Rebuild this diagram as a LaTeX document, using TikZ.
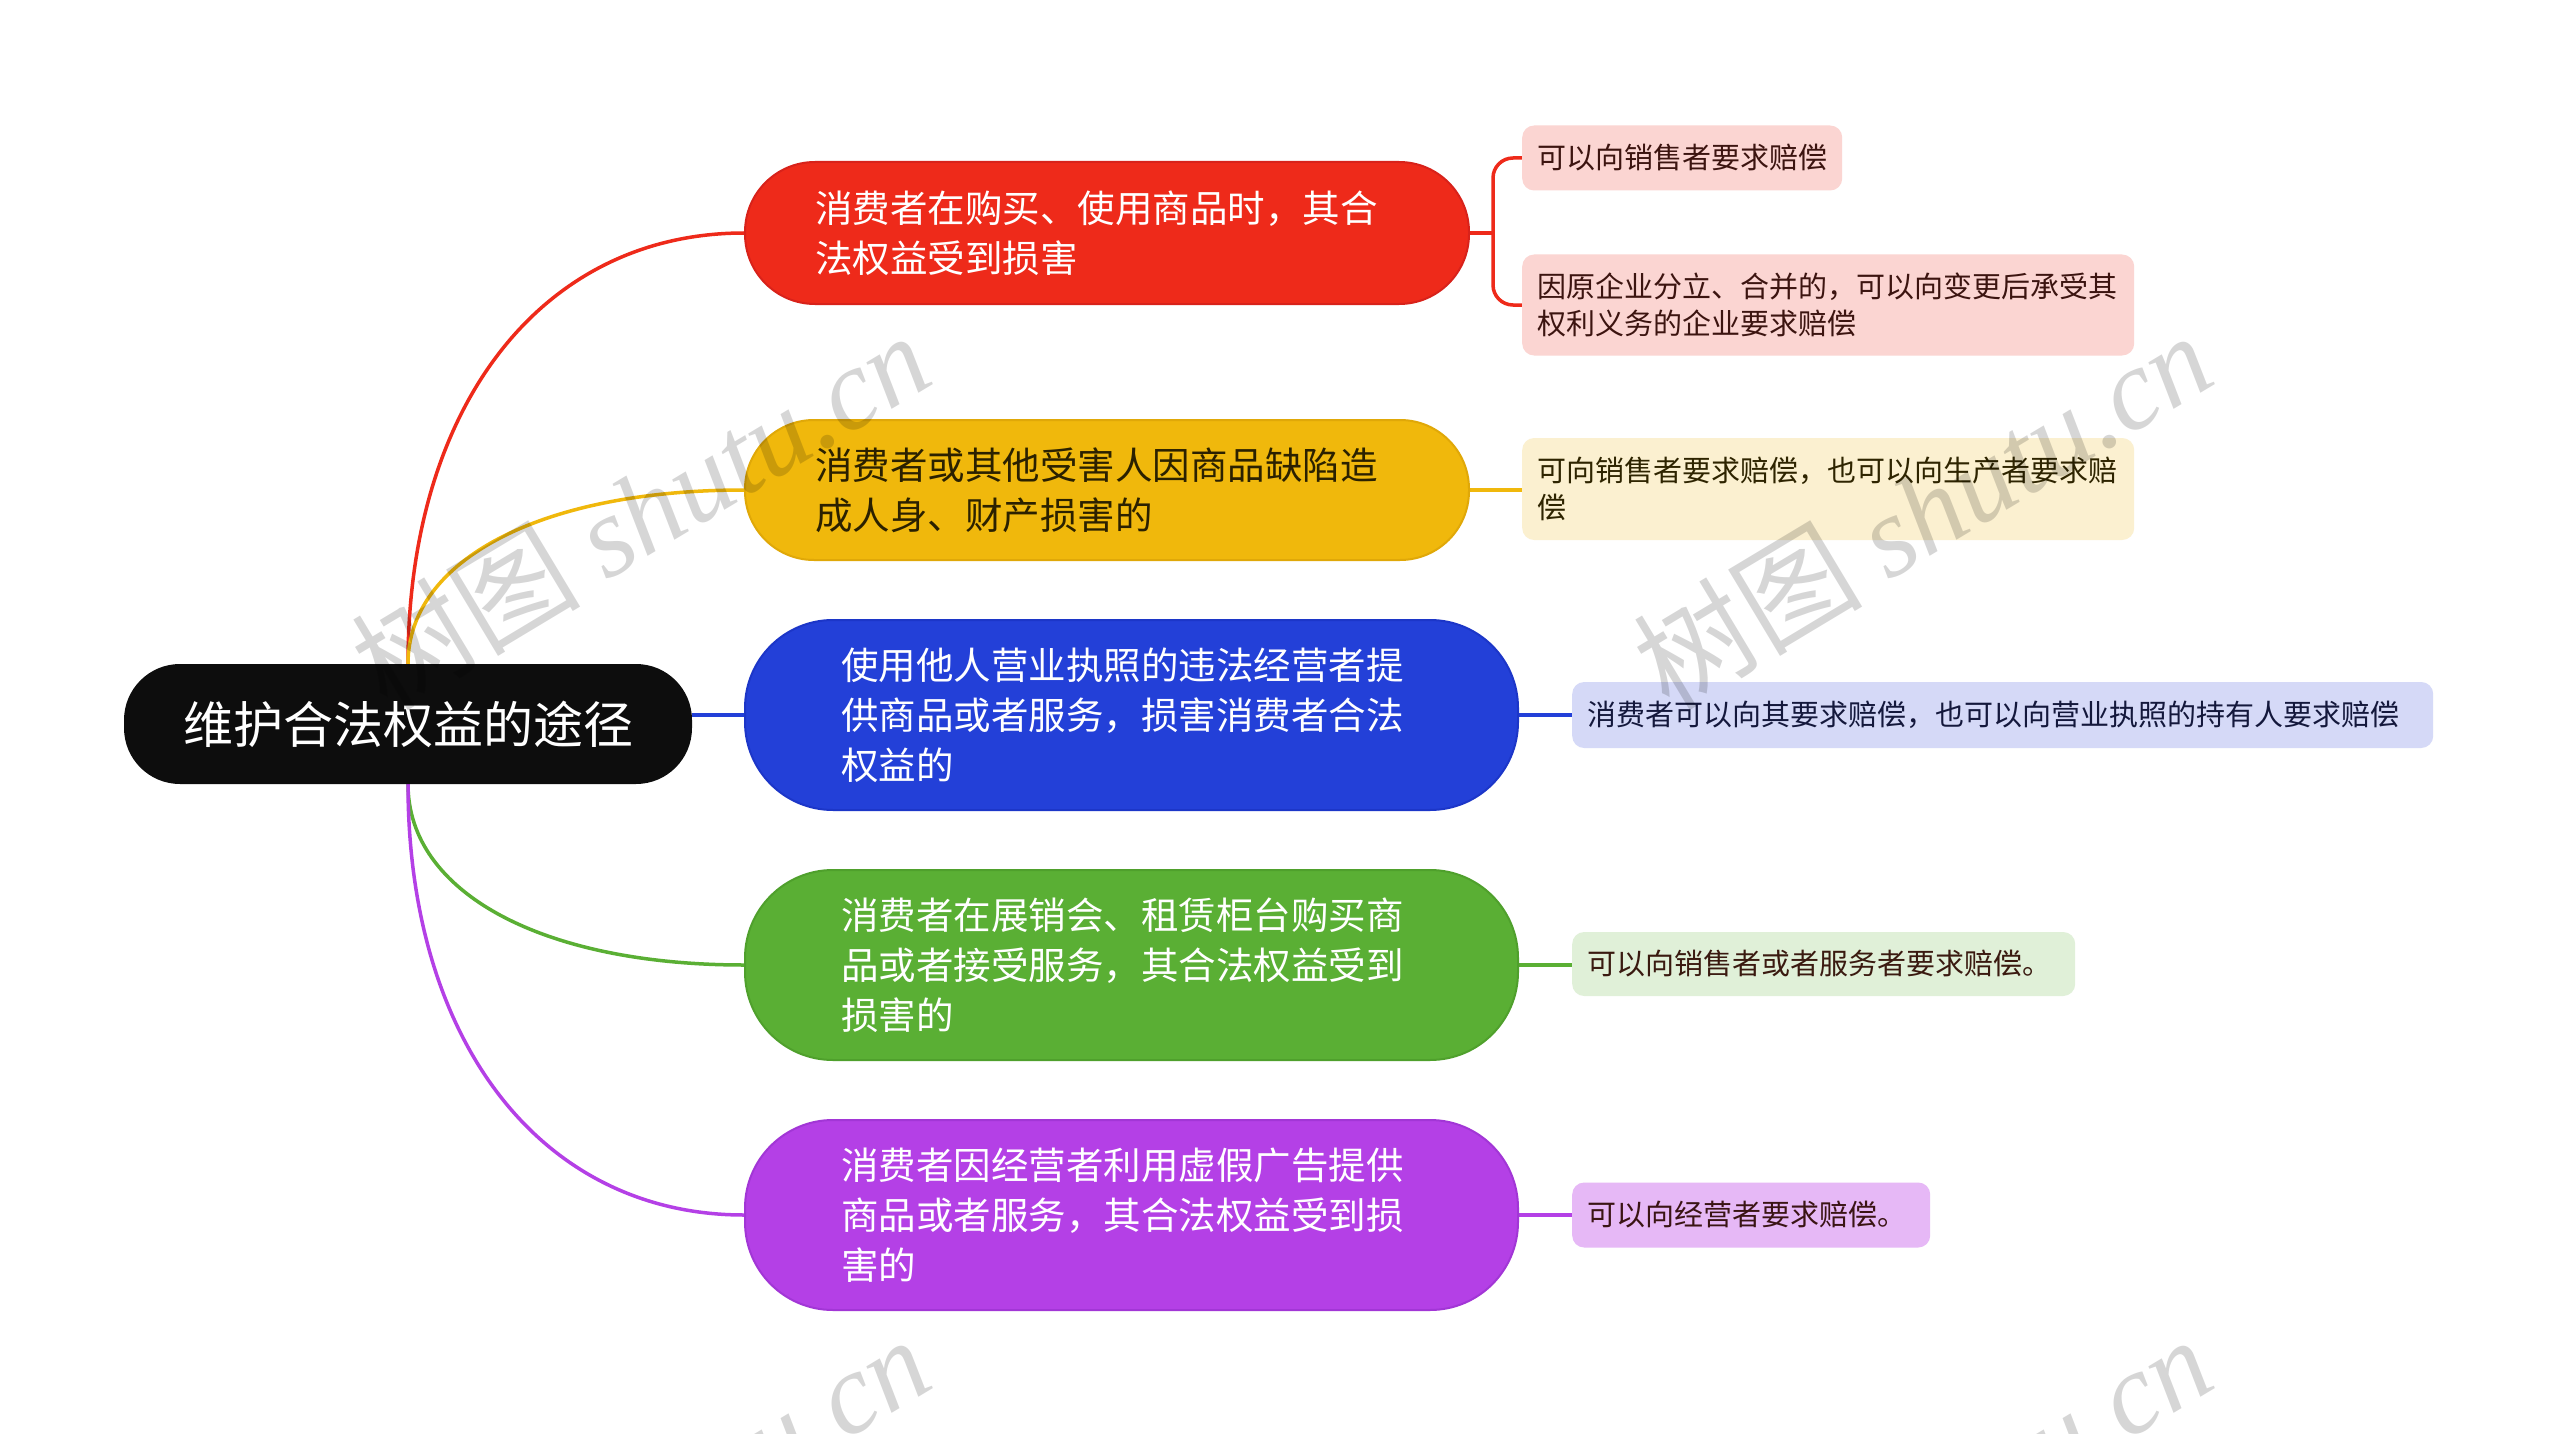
\documentclass[tikz,border=0pt]{standalone}
\usepackage{fontspec}
\setmainfont{Noto Sans CJK SC}
\newfontfamily\wmlat{Liberation Serif}
\usetikzlibrary{calc}
\pgfdeclarelayer{background}
\pgfdeclarelayer{top}
\pgfsetlayers{background,main,top}
\definecolor{rootblack}{HTML}{0D0D0D}
\definecolor{cRed}{HTML}{EE2A1A}
\definecolor{cRedD}{HTML}{D8221A}
\definecolor{cYellow}{HTML}{F0B80C}
\definecolor{cYellowD}{HTML}{E0A808}
\definecolor{cBlue}{HTML}{2340D8}
\definecolor{cBlueD}{HTML}{1C36C8}
\definecolor{cGreen}{HTML}{5AAF34}
\definecolor{cGreenD}{HTML}{4FA02C}
\definecolor{cPurple}{HTML}{B440E6}
\definecolor{cPurpleD}{HTML}{A236D6}
\definecolor{lRed}{HTML}{FBD5D2}
\definecolor{lYellow}{HTML}{FBF0D0}
\definecolor{lBlue}{HTML}{D5D9F7}
\definecolor{lGreen}{HTML}{E0F0D8}
\definecolor{lPurple}{HTML}{E6B8F6}
\definecolor{tRed}{HTML}{3C1410}
\definecolor{tYellow}{HTML}{2E2400}
\definecolor{tBlue}{HTML}{14183C}
\definecolor{tGreen}{HTML}{3A1A10}
\definecolor{tPurple}{HTML}{3A1414}
\definecolor{tBranchY}{HTML}{2B2100}
\begin{document}
\begin{tikzpicture}[x=1pt,y=-1pt,
  rootbox/.style={fill=rootblack, rounded corners=56pt, minimum width=568pt,
    minimum height=120pt, inner sep=0pt, text=white,
    font=\fontsize{50}{60}\selectfont},
  branchbox/.style={inner sep=0pt, align=left, line width=2pt,
    font=\fontsize{37.5}{50}\selectfont},
  leafbox/.style={rounded corners=12pt, inner xsep=15pt, inner ysep=0pt,
    align=left, anchor=west, font=\fontsize{29}{37.5}\selectfont},
  conn/.style={line width=3.5pt},
  wm/.style={text=black, text opacity=0.16, font=\fontsize{115}{120}\selectfont, inner sep=0pt}
]
\useasboundingbox (0,0) rectangle (2560,1434);

% root
\node[rootbox] (root) at (408,724) {维护合法权益的途径};

% branches
\node[branchbox, fill=cRed, draw=cRedD, text=white, rounded corners=70pt,
  minimum width=724pt, minimum height=142pt, text width=584pt] (b1) at (1107,233)
  {消费者在购买、使用商品时，其合\\法权益受到损害};
\node[branchbox, fill=cYellow, draw=cYellowD, text=tBranchY, rounded corners=69pt,
  minimum width=724pt, minimum height=140pt, text width=584pt] (b2) at (1107,490)
  {消费者或其他受害人因商品缺陷造\\成人身、财产损害的};
\node[branchbox, fill=cBlue, draw=cBlueD, text=white, rounded corners=88pt,
  minimum width=773pt, minimum height=190pt, text width=581pt] (b3) at (1131.5,715)
  {使用他人营业执照的违法经营者提\\供商品或者服务，损害消费者合法\\权益的};
\node[branchbox, fill=cGreen, draw=cGreenD, text=white, rounded corners=88pt,
  minimum width=773pt, minimum height=190pt, text width=581pt] (b4) at (1131.5,965)
  {消费者在展销会、租赁柜台购买商\\品或者接受服务，其合法权益受到\\损害的};
\node[branchbox, fill=cPurple, draw=cPurpleD, text=white, rounded corners=88pt,
  minimum width=773pt, minimum height=190pt, text width=581pt] (b5) at (1131.5,1215)
  {消费者因经营者利用虚假广告提供\\商品或者服务，其合法权益受到损\\害的};

% leaves
\node[leafbox, fill=lRed, text=tRed, text width=290pt, minimum height=65pt] (l1a) at (1522,158)
  {可以向销售者要求赔偿};
\node[leafbox, fill=lRed, text=tRed, text width=582pt, minimum height=101pt] (l1b) at (1522,305)
  {因原企业分立、合并的，可以向变更后承受其\\权利义务的企业要求赔偿};
\node[leafbox, fill=lYellow, text=tYellow, text width=582pt, minimum height=102pt] (l2) at (1522,489)
  {可向销售者要求赔偿，也可以向生产者要求赔\\偿};
\node[leafbox, fill=lBlue, text=tBlue, text width=831pt, minimum height=66pt] (l3) at (1572,715)
  {消费者可以向其要求赔偿，也可以向营业执照的持有人要求赔偿};
\node[leafbox, fill=lGreen, text=tGreen, text width=473pt, minimum height=64pt] (l4) at (1572,964)
  {可以向销售者或者服务者要求赔偿。};
\node[leafbox, fill=lPurple, text=tPurple, text width=328pt, minimum height=65pt] (l5) at (1572,1215)
  {可以向经营者要求赔偿。};

\coordinate (j1) at (1493,233);

\begin{pgfonlayer}{background}
  \fill[white] (0,0) rectangle (2560,1434);
  % root to branches
  \draw[conn, cRed] (root.north) .. controls ($(root.north)!0.6!(root.north |- b1.west)$)
    and ($(b1.west)!0.6!(root.north |- b1.west)$) .. (b1.west);
  \draw[conn, cYellow] (root.north) .. controls ($(root.north)!0.6!(root.north |- b2.west)$)
    and ($(b2.west)!0.6!(root.north |- b2.west)$) .. (b2.west);
  \draw[conn, cBlue] (root.east |- b3.west) -- (b3.west);
  \draw[conn, cGreen] (root.south) .. controls ($(root.south)!0.6!(root.south |- b4.west)$)
    and ($(b4.west)!0.6!(root.south |- b4.west)$) .. (b4.west);
  \draw[conn, cPurple] (root.south) .. controls ($(root.south)!0.6!(root.south |- b5.west)$)
    and ($(b5.west)!0.6!(root.south |- b5.west)$) .. (b5.west);
  % branches to leaves
  \draw[conn, cRed] (b1.east) -- (j1);
  \draw[conn, cRed, rounded corners=20pt] (l1a.west) -| (j1) |- (l1b.west);
  \draw[conn, cYellow] (b2.east) -- (b2.east -| l2.west);
  \draw[conn, cBlue] (b3.east) -- (l3.west);
  \draw[conn, cGreen] (b4.east) -- (b4.east -| l4.west);
  \draw[conn, cPurple] (b5.east) -- (l5.west);
\end{pgfonlayer}

% watermarks
\begin{pgfonlayer}{top}
\begin{scope}
  \clip (0,0) rectangle (2560,1434);
  \node[wm, rotate=31] (wm1) at (640,510) {树图 {\wmlat\itshape shutu.cn}};
  \node[wm, rotate=31] (wm2) at (1922,510) {树图 {\wmlat\itshape shutu.cn}};
  \node[wm, rotate=31] (wm3) at (640,1514) {树图 {\wmlat\itshape shutu.cn}};
  \node[wm, rotate=31] (wm4) at (1922,1514) {树图 {\wmlat\itshape shutu.cn}};
\end{scope}
\end{pgfonlayer}
\end{tikzpicture}
\end{document}
